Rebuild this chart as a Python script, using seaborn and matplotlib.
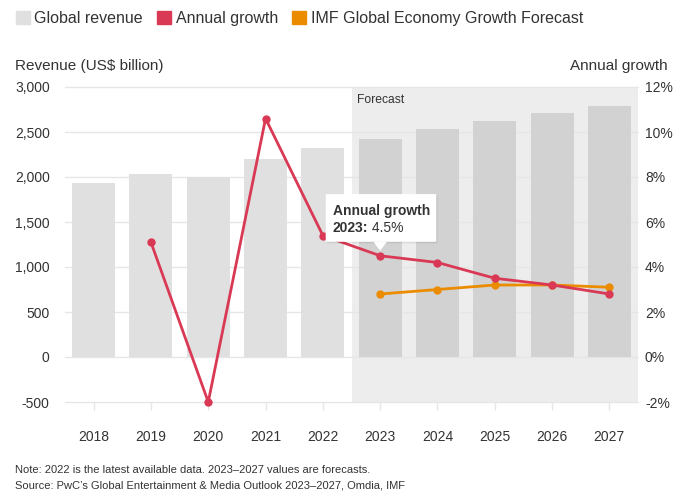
import matplotlib
matplotlib.use("Agg")
import matplotlib.pyplot as plt
import seaborn as sns
import pandas as pd
import numpy as np
from matplotlib.patches import Patch, FancyBboxPatch, Polygon

years = ["2018", "2019", "2020", "2021", "2022", "2023", "2024", "2025", "2026", "2027"]
revenue = [1933, 2033, 2000, 2200, 2322, 2422, 2533, 2622, 2711, 2789]
phase = ["Actual"] * 5 + ["Forecast"] * 5
growth_years = ["2019", "2020", "2021", "2022", "2023", "2024", "2025", "2026", "2027"]
growth = [5.1, -2.0, 10.6, 5.4, 4.5, 4.2, 3.5, 3.2, 2.8]
imf_years = ["2023", "2024", "2025", "2026", "2027"]
imf = [2.8, 3.0, 3.2, 3.2, 3.1]
left_ticks = [-500, 0, 500, 1000, 1500, 2000, 2500, 3000]
right_ticks = [-2, 0, 2, 4, 6, 8, 10, 12]

sns.set_theme(style="white")
plt.rcParams["font.family"] = ["Liberation Sans", "DejaVu Sans"]

TXT = "#333333"
GREY_BAR = "#e0e0e0"
FC_BAR = "#d2d2d2"
FC_BG = "#ededed"
RED = "#d93954"
ORANGE = "#eb8c00"
GRID = "#e6e6e6"

fig = plt.figure(figsize=(6.8, 4.95), dpi=100)
ax = fig.add_axes([65 / 680, 1 - 402 / 495, (638 - 65) / 680, (402 - 87) / 495])

df = pd.DataFrame({"year": years, "revenue": revenue, "phase": phase})
sns.barplot(data=df, x="year", y="revenue", hue="phase",
            palette={"Actual": GREY_BAR, "Forecast": FC_BAR},
            dodge=False, width=0.75, legend=False, ax=ax, zorder=2,
            linewidth=0, edgecolor="none", saturation=1)

ax.set_xlim(-0.5, len(years) - 0.5)
ax.set_ylim(left_ticks[0], left_ticks[-1])
fc_start = years.index("2023") - 0.5
ax.axvspan(fc_start, len(years) - 0.5, color=FC_BG, zorder=0, lw=0)
ax.set_yticks(left_ticks)
ax.set_yticklabels([f"{v:,}" for v in left_ticks])
for v in left_ticks:
    ax.axhline(v, color=GRID, lw=1, zorder=1, clip_on=False)
for s in ax.spines.values():
    s.set_visible(False)
ax.tick_params(axis="y", left=False, length=0, pad=11, labelsize=10, labelcolor=TXT)
ax.tick_params(axis="x", bottom=True, length=6, width=1, color=GRID, pad=14,
               labelsize=10, labelcolor=TXT)
ax.set_xlabel("")
ax.set_ylabel("")
ax.text(fc_start + 0.1, 2925, "Forecast", fontsize=8.7, color=TXT, va="top", ha="left", zorder=3)

ax2 = ax.twinx()
ax2.set_ylim(right_ticks[0], right_ticks[-1])
ax2.set_yticks(right_ticks)
ax2.set_yticklabels([f"{v}%" for v in right_ticks])
for s in ax2.spines.values():
    s.set_visible(False)
ax2.tick_params(axis="y", right=False, length=0, pad=5, labelsize=10, labelcolor=TXT)

gx = [years.index(y) for y in growth_years]
ix = [years.index(y) for y in imf_years]
sns.lineplot(x=ix, y=imf, ax=ax2, color=ORANGE, lw=2, marker="o", markersize=6,
             markeredgewidth=0, zorder=3, clip_on=False)
sns.lineplot(x=gx, y=growth, ax=ax2, color=RED, lw=2, marker="o", markersize=6,
             markeredgewidth=0, zorder=4, clip_on=False)
ax2.set_xlim(-0.5, len(years) - 0.5)

# tooltip for 2023
tx = years.index("2023")
tv = growth[growth_years.index("2023")]
shadow = FancyBboxPatch((4.07, 5.05), 1.93, 2.15, boxstyle="round,pad=0,rounding_size=0.06",
                        mutation_aspect=0.2, fc="#000000", alpha=0.08, ec="none", zorder=9)
box = FancyBboxPatch((4.05, 5.12), 1.93, 2.12, boxstyle="round,pad=0,rounding_size=0.06",
                     mutation_aspect=0.2, fc="white", ec="none", zorder=10)
ax2.add_patch(shadow)
ax2.add_patch(box)
ax2.add_patch(Polygon([[tx - 0.12, 5.13], [tx + 0.12, 5.13], [tx, tv + 0.22]],
                      closed=True, fc="white", ec="none", zorder=10))
ax2.text(4.17, 6.5, "Annual growth", fontsize=10, fontweight="bold", color=TXT,
         va="center", ha="left", zorder=11)
t1 = ax2.text(4.17, 5.75, f"{years[tx]}:", fontsize=10, fontweight="bold", color=TXT,
              va="center", ha="left", zorder=11)
ax2.annotate(f" {tv}%", xy=(1, 0.5), xycoords=t1, fontsize=10, color=TXT,
             va="center", ha="left", zorder=11)

fig.text(15 / 680, 1 - 66 / 495, "Revenue (US$ billion)", fontsize=11, color=TXT, ha="left", va="center")
fig.text(668 / 680, 1 - 66 / 495, "Annual growth", fontsize=11, color=TXT, ha="right", va="center")

handles = [Patch(color=GREY_BAR, label="Global revenue"),
           Patch(color=RED, label="Annual growth"),
           Patch(color=ORANGE, label="IMF Global Economy Growth Forecast")]
leg = fig.legend(handles=handles, loc="upper left", bbox_to_anchor=(11.2 / 680, 1 - 6 / 495), ncol=3,
                 frameon=False, fontsize=11.5, handlelength=0.85, handleheight=0.85,
                 handletextpad=0.3, columnspacing=0.9, borderaxespad=0.0, borderpad=0.3)
for t in leg.get_texts():
    t.set_color(TXT)

fig.text(15 / 680, 1 - 470 / 495, "Note: 2022 is the latest available data. 2023\u20132027 values are forecasts.",
         fontsize=8, color=TXT, ha="left", va="center")
fig.text(15 / 680, 1 - 485 / 495, "Source: PwC\u2019s Global Entertainment & Media Outlook 2023\u20132027, Omdia, IMF",
         fontsize=8, color=TXT, ha="left", va="center")

fig.savefig("out.png", dpi=100)
